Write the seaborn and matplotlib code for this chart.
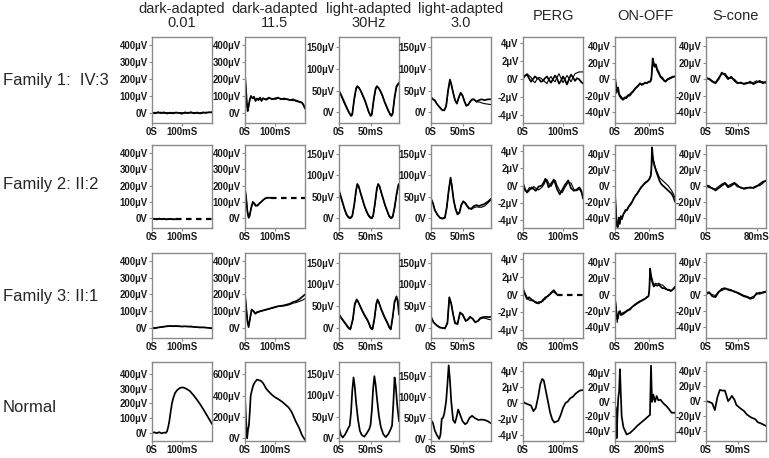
"""
ERG panel grid: 3 patients (two recordings overlaid) plus a normal control,
seven ISCEV-style protocols per row.
"""

import matplotlib
matplotlib.use("Agg")
import matplotlib.pyplot as plt
import seaborn as sns

sns.set_theme(style="white")
plt.rcParams["font.family"] = ["Liberation Sans", "DejaVu Sans"]

# ---------------------------------------------------------------- labels
col_titles = ["dark-adapted\n0.01", "dark-adapted\n11.5", "light-adapted\n30Hz",
              "light-adapted\n3.0", "PERG", "ON-OFF", "S-cone"]
row_labels = ["Family 1:  IV:3", "Family 2: II:2", "Family 3: II:1", "Normal"]

# ---------------------------------------------------------------- Family 1: IV:3
f1_da001_t = [0, 10, 20, 30, 40, 50, 60, 70, 80, 90, 100, 110, 120, 130, 140, 150, 160, 170, 180, 190, 200]
f1_da001_a = [2, -3, 4, -2, 3, -4, 1, -3, 2, -1, -5, 3, -2, 4, -3, 2, -4, 3, -1, 4, 2]
f1_da001_b = [0, 3, -2, 4, -3, 2, -4, 3, -1, 2, 1, -3, 3, -1, 2, -3, 1, -2, 4, 1, 5]

f1_da115_t = [0, 3, 6, 9, 12, 16, 20, 25, 30, 35, 40, 45, 50, 55, 60, 70, 80, 90, 100, 110,
              120, 130, 140, 150, 160, 170, 180, 190, 195, 200]
f1_da115_a = [220, 150, 60, 10, 40, 80, 100, 85, 95, 70, 85, 75, 90, 70, 85, 80, 90, 80, 85, 90,
              80, 85, 80, 75, 80, 70, 65, 60, 45, 25]
f1_da115_b = [215, 140, 55, 15, 35, 75, 95, 90, 85, 80, 78, 85, 80, 78, 88, 75, 85, 85, 80, 85,
              85, 78, 82, 78, 72, 75, 68, 62, 50, 30]

f1_la30_t = [0, 4, 8, 12, 16, 19, 21, 24, 27, 29, 32, 35, 38, 41, 44, 47, 50, 52, 55, 58, 60, 63,
             66, 69, 72, 75, 78, 81, 83, 85, 88, 91, 93, 95]
f1_la30_a = [50, 38, 25, 12, 0, -8, -5, 30, 55, 60, 55, 48, 38, 28, 15, 2, -8, -5, 30, 55, 60, 55,
             48, 38, 25, 15, 5, -5, -8, -3, 35, 60, 64, 68]
f1_la30_b = [48, 36, 22, 10, -2, -6, -2, 28, 52, 58, 57, 46, 36, 26, 14, 0, -6, -2, 28, 52, 58, 56,
             46, 36, 24, 13, 3, -3, -6, 0, 32, 57, 62, 65]

f1_la3_t = [0, 3, 6, 9, 12, 15, 18, 21, 24, 27, 30, 32, 35, 38, 41, 44, 47, 50, 53, 56, 59, 62,
            65, 68, 72, 76, 80, 85, 90, 95]
f1_la3_a = [35, 30, 28, 20, 15, 10, 5, 5, 15, 50, 75, 65, 45, 28, 20, 35, 45, 38, 25, 15, 18, 25,
            30, 30, 25, 28, 30, 28, 30, 30]
f1_la3_b = [35, 31, 26, 21, 14, 9, 6, 4, 14, 48, 73, 66, 46, 29, 21, 33, 44, 39, 26, 16, 17, 24,
            29, 29, 24, 24, 22, 20, 19, 18]

f1_perg_t = [0, 5, 10, 15, 20, 25, 30, 35, 40, 45, 50, 55, 60, 65, 70, 75, 80, 85, 90, 95, 100,
             105, 110, 115, 120, 125, 130, 135, 140, 145, 150]
f1_perg_a = [0.2, 0.4, 0.5, 0.1, -0.3, 0.0, 0.3, 0.1, 0.0, -0.3, -0.2, 0.1, 0.3, -0.1, -0.4, 0.0,
             0.4, 0.1, -0.5, -0.2, 0.3, -0.1, -0.6, 0.0, 0.5, 0.2, -0.2, 0.1, 0.0, -0.3, -0.5]
f1_perg_b = [0.0, 0.3, 0.6, 0.4, 0.2, -0.2, -0.4, 0.0, 0.2, 0.1, -0.1, -0.3, -0.5, 0.0, 0.3, -0.1,
             -0.3, 0.2, 0.6, 0.1, -0.4, 0.0, 0.4, 0.1, -0.3, 0.2, 0.6, 0.7, 0.8, 0.8, 0.8]

f1_onoff_t = [0, 5, 10, 18, 24, 30, 38, 46, 56, 66, 76, 86, 96, 106, 116, 126, 136, 146, 156, 166,
              176, 186, 196, 206, 212, 220, 225, 230, 238, 246, 256, 266, 276, 286, 296, 306, 316,
              326, 336, 350]
f1_onoff_a = [2, -5, -15, -10, -18, -20, -22, -25, -22, -23, -20, -20, -17, -15, -12, -10, -8, -5,
              -7, -6, -4, -5, -3, -3, 0, 25, 18, 15, 18, 12, 8, 3, 2, -2, -3, 0, 1, 2, 3, 3]
f1_onoff_b = [0, -8, -17, -12, -20, -22, -24, -23, -24, -21, -19, -18, -16, -14, -11, -9, -7, -6,
              -6, -5, -5, -4, -4, -2, 2, 20, 22, 17, 15, 10, 6, 2, 0, -1, -2, -1, 0, 1, 2, 4]

f1_scone_t = [0, 5, 10, 15, 20, 25, 30, 35, 40, 45, 50, 55, 60, 65, 70, 75, 80, 85, 90, 95]
f1_scone_a = [2, 0, -3, -5, 0, 8, 5, 0, 3, -2, -5, -4, -6, -5, -3, -6, -4, -2, -5, -3]
f1_scone_b = [0, 1, -2, -4, 2, 6, 7, 2, 1, 0, -4, -5, -5, -4, -5, -4, -2, -4, -3, -5]

# ---------------------------------------------------------------- Family 2: II:2
f2_da001_t = [0, 8, 16, 24, 32, 40, 48, 56, 64, 72, 80]
f2_da001_a = [-5, -3, -8, -2, -6, -3, -8, -4, -6, -7, -6]
f2_da001_b = [-4, -6, -2, -7, -3, -7, -4, -8, -3, -6, -6]
f2_da001_gap_t = [80, 200]
f2_da001_gap = [-6, -6]

f2_da115_t = [0, 4, 8, 12, 15, 20, 26, 30, 36, 42, 48, 54, 60, 66, 72, 78, 85]
f2_da115_a = [180, 120, 40, 5, 10, 60, 100, 90, 75, 80, 90, 100, 110, 120, 125, 125, 125]
f2_da115_b = [185, 125, 45, 0, 15, 55, 95, 95, 80, 75, 92, 98, 112, 118, 122, 126, 125]
f2_da115_gap_t = [85, 200]
f2_da115_gap = [125, 125]

f2_la30_t = [0, 3, 6, 9, 12, 15, 18, 21, 24, 27, 29, 31, 34, 37, 40, 43, 46, 49, 52, 54, 57, 60,
             62, 64, 67, 70, 73, 76, 79, 82, 85, 88, 91, 94, 95]
f2_la30_a = [65, 50, 35, 20, 8, 2, 0, 5, 30, 65, 80, 75, 60, 45, 30, 18, 8, 2, 0, 5, 35, 70, 80,
             75, 60, 45, 30, 18, 6, 0, 3, 25, 55, 78, 80]
f2_la30_b = [63, 48, 33, 18, 6, 0, -2, 3, 28, 62, 78, 76, 58, 43, 28, 16, 6, 0, -2, 3, 32, 68, 78,
             76, 58, 43, 28, 16, 4, -2, 1, 22, 52, 75, 78]

f2_la3_t = [0, 3, 6, 10, 14, 18, 22, 25, 28, 31, 33, 36, 39, 42, 45, 48, 51, 54, 57, 60, 64, 68,
            72, 76, 80, 85, 90, 95]
f2_la3_a = [45, 35, 18, 8, 0, -2, 0, 25, 65, 95, 75, 40, 20, 8, 12, 30, 38, 35, 28, 22, 22, 28,
            30, 28, 30, 33, 38, 45]
f2_la3_b = [46, 36, 19, 7, 1, -1, 1, 24, 63, 92, 77, 42, 22, 10, 14, 32, 40, 36, 30, 24, 20, 24,
            26, 25, 25, 28, 35, 42]

f2_perg_t = [0, 5, 10, 16, 22, 27, 32, 39, 47, 52, 56, 60, 64, 70, 77, 81, 85, 92, 98, 105, 113,
             120, 127, 133, 141, 146, 150]
f2_perg_a = [0.3, -0.4, -0.8, -0.5, -0.2, -0.4, -0.6, -0.1, 0.0, 0.4, 0.8, 0.4, -0.2, 0.2, 0.7,
             0.2, -0.4, -1.0, -0.5, 0.1, 0.6, -0.3, -0.6, -0.5, -0.2, -0.6, -1.5]
f2_perg_b = [0.1, -0.6, -0.7, -0.2, -0.4, -0.1, -0.3, -0.5, -0.2, 0.1, 0.5, 0.7, 0.3, -0.1, 0.5,
             0.6, 0.0, -0.6, -0.8, -0.2, 0.4, 0.3, -0.4, -0.6, -0.4, -0.8, -1.2]

f2_onoff_t = [0, 5, 10, 16, 22, 28, 34, 40, 50, 60, 70, 80, 90, 100, 110, 120, 130, 140, 150, 160,
              170, 180, 190, 200, 208, 212, 216, 222, 230, 240, 250, 260, 270, 280, 290, 300, 310,
              320, 330, 340, 350]
f2_onoff_a = [-10, -30, -50, -52, -40, -48, -38, -42, -35, -32, -30, -26, -24, -20, -16, -12, -10,
              -6, -3, 0, 2, 4, 6, 8, 12, 20, 48, 32, 25, 18, 12, 6, 2, 0, -2, -4, -6, -8, -10, -14, -20]
f2_onoff_b = [-8, -28, -48, -50, -42, -45, -40, -40, -36, -30, -31, -27, -22, -21, -15, -13, -9,
              -7, -2, -1, 3, 5, 5, 9, 13, 18, 42, 35, 27, 20, 15, 10, 8, 6, 4, 2, 0, -3, -6, -10, -15]

f2_scone_t = [0, 5, 10, 15, 20, 25, 30, 35, 40, 45, 50, 55, 60, 65, 70, 75, 80, 85, 90, 95]
f2_scone_a = [0, -2, -3, -6, -3, 0, 3, -2, 0, 3, -1, -2, -4, -3, -2, -3, -1, 2, 5, 6]
f2_scone_b = [1, 0, -4, -4, -1, 2, 4, 0, 2, 4, 1, -3, -3, -2, -3, -2, 0, 0, 3, 7]

# ---------------------------------------------------------------- Family 3: II:1
f3_da001_t = [0, 10, 20, 30, 40, 50, 60, 70, 80, 90, 100, 110, 120, 130, 140, 150, 160, 170, 180, 190, 200]
f3_da001_a = [0, -2, 3, 5, 8, 10, 12, 10, 12, 10, 9, 10, 8, 9, 6, 5, 3, 4, 2, 0, -2]
f3_da001_b = [-1, 1, 2, 6, 7, 11, 10, 12, 10, 11, 8, 9, 9, 7, 7, 4, 4, 2, 3, 1, -1]

f3_da115_t = [0, 4, 8, 12, 16, 22, 28, 34, 40, 50, 60, 70, 80, 90, 100, 110, 120, 130, 140, 150,
              160, 170, 180, 190, 200]
f3_da115_a = [200, 120, 40, 5, 50, 110, 100, 85, 95, 100, 105, 110, 115, 120, 125, 130, 132, 135,
              140, 145, 155, 160, 170, 185, 200]
f3_da115_b = [205, 125, 45, 10, 45, 105, 105, 90, 90, 98, 103, 108, 112, 118, 122, 128, 130, 132,
              135, 140, 148, 152, 158, 165, 175]

f3_la30_t = [0, 5, 10, 15, 18, 22, 25, 28, 30, 35, 40, 45, 48, 50, 53, 56, 59, 61, 63, 67, 72, 77,
             80, 82, 85, 88, 91, 93, 95]
f3_la30_a = [30, 20, 10, 0, -3, 20, 55, 65, 60, 45, 30, 18, 8, 0, -3, 20, 55, 65, 58, 42, 25, 10,
             0, -3, 25, 60, 72, 60, 30]
f3_la30_b = [28, 18, 8, -2, -5, 18, 52, 62, 62, 43, 28, 16, 6, -2, -5, 18, 52, 62, 60, 40, 23, 8,
             -2, -5, 22, 58, 68, 65, 35]

f3_la3_t = [0, 4, 9, 14, 18, 22, 26, 29, 32, 35, 38, 42, 46, 50, 55, 58, 62, 66, 70, 74, 78, 82,
            87, 91, 95]
f3_la3_a = [25, 12, 5, 0, -1, -2, 10, 70, 55, 30, 10, 8, 35, 30, 15, 18, 25, 20, 12, 15, 22, 24,
            25, 24, 25]
f3_la3_b = [24, 13, 6, 1, 0, -1, 12, 68, 57, 32, 12, 9, 33, 31, 17, 17, 23, 21, 14, 14, 20, 22,
            21, 19, 18]

f3_perg_t = [0, 5, 10, 15, 20, 25, 30, 35, 39, 45, 50, 56, 62, 68, 72, 77, 82, 85]
f3_perg_a = [0.5, 0.0, -0.5, -0.3, -0.5, -0.7, -0.8, -0.9, -1.0, -0.8, -0.7, -0.3, -0.2, 0.1, 0.3,
             0.5, 0.2, 0.0]
f3_perg_b = [0.8, 0.2, -0.3, -0.6, -0.7, -0.6, -0.9, -1.0, -0.8, -0.9, -0.5, -0.5, -0.1, 0.0, 0.2,
             0.3, 0.1, 0.0]
f3_perg_gap_t = [85, 150]
f3_perg_gap = [0, 0]

f3_onoff_t = [0, 5, 13, 18, 23, 29, 35, 45, 58, 70, 88, 100, 117, 130, 146, 160, 175, 185, 195,
              200, 205, 210, 218, 226, 236, 246, 256, 266, 276, 286, 296, 306, 316, 326, 336, 350]
f3_onoff_a = [-5, -15, -30, -28, -21, -20, -25, -24, -22, -20, -18, -15, -12, -10, -8, -7, -5, -3,
              -2, 5, 32, 22, 15, 10, 12, 11, 12, 10, 8, 8, 7, 6, 6, 5, 6, 10]
f3_onoff_b = [-3, -12, -34, -26, -23, -22, -24, -22, -21, -19, -17, -15, -13, -11, -9, -6, -5, -4,
              -2, 4, 28, 25, 18, 12, 14, 13, 14, 12, 12, 10, 8, 6, 5, 4, 6, 8]

f3_scone_t = [0, 5, 10, 15, 20, 25, 30, 35, 40, 45, 50, 55, 60, 65, 70, 75, 80, 85, 90, 95]
f3_scone_a = [2, 3, -2, -3, 3, 7, 8, 6, 5, 4, 2, 0, -2, -3, -5, -4, 2, 1, 3, 4]
f3_scone_b = [0, 2, 0, -1, 4, 5, 7, 7, 6, 3, 3, 1, -1, -2, -4, -2, 0, 3, 2, 3]

# ---------------------------------------------------------------- Normal control
n_da001_t = [0, 8, 16, 24, 32, 40, 46, 50, 54, 58, 62, 66, 70, 77, 85, 93, 100, 106, 115, 127,
             138, 149, 160, 171, 185, 200]
n_da001 = [0, 4, -2, 5, -3, 2, 0, 10, 40, 82, 140, 193, 230, 271, 292, 304, 308, 306, 298, 282,
           256, 227, 195, 160, 112, 60]

n_da115_t = [0, 3, 7, 10, 13, 16, 19, 23, 28, 34, 40, 46, 52, 58, 64, 69, 75, 82, 90, 100, 112,
             125, 135, 145, 155, 169, 180, 190, 200]
n_da115 = [380, 200, 0, 80, 120, 250, 400, 450, 500, 530, 550, 545, 540, 525, 500, 472, 450, 430,
           407, 385, 365, 340, 315, 290, 250, 160, 100, 30, -15]

n_la30_t = [0, 3, 6, 10, 14, 17, 19, 21, 23, 25, 27, 30, 33, 36, 40, 44, 48, 50, 52, 54, 56, 58,
            60, 63, 66, 70, 74, 78, 82, 84, 86, 88, 90, 92, 95]
n_la30 = [25, 8, 2, 10, 22, 30, 60, 110, 142, 120, 85, 45, 18, 8, 4, 12, 22, 32, 65, 115, 145, 125,
          95, 55, 28, 10, 3, 10, 22, 30, 80, 142, 120, 80, 40]

n_la3_t = [0, 3, 6, 9, 13, 15, 17, 19, 21, 24, 26, 28, 30, 32, 35, 38, 41, 43, 46, 50, 54, 57,
           61, 65, 69, 75, 80, 85, 90, 95]
n_la3 = [45, 38, 20, 10, 0, 10, 48, 50, 60, 90, 130, 175, 140, 90, 45, 38, 55, 70, 58, 42, 35, 38,
         50, 55, 50, 45, 46, 45, 42, 37]

n_perg_t = [0, 5, 10, 15, 20, 26, 32, 38, 43, 48, 52, 56, 62, 68, 73, 78, 83, 88, 94, 100, 106,
            112, 118, 125, 132, 140, 145, 150]
n_perg = [0.2, 0.0, -0.1, -0.2, -0.3, -1.0, -0.6, 0.8, 2.3, 3.0, 2.8, 1.8, 0.3, -1.2, -2.0, -2.4,
          -2.3, -2.2, -1.5, -0.6, 0.0, 0.2, 0.6, 0.8, 1.2, 1.5, 1.6, 1.6]

n_onoff_t = [0, 5, 10, 14, 19, 24, 29, 34, 39, 49, 68, 87, 110, 130, 150, 170, 194, 204, 210, 216,
             224, 233, 243, 253, 265, 282, 301, 315, 330, 350]
n_onoff = [-5, -8, -50, -20, 5, 15, 45, 10, -20, -35, -45, -43, -38, -33, -29, -25, -20, -18, 50,
           0, 10, 0, 8, 2, 3, -2, -6, -10, -15, -15]

n_scone_t = [0, 5, 10, 14, 18, 22, 26, 30, 35, 38, 41, 45, 48, 55, 60, 65, 72, 78, 82, 88, 95]
n_scone = [0, -1, -3, -12, 5, 15, 14, 14, 0, 3, 7, 2, -5, -10, -13, -18, -22, -24, -28, -30, -33]

# ---------------------------------------------------------------- axis scales per column
uv_400 = ([0, 100, 200, 300, 400], ["0V", "100µV", "200µV", "300µV", "400µV"])
uv_600 = ([0, 200, 400, 600], ["0V", "200µV", "400µV", "600µV"])
uv_150 = ([0, 50, 100, 150], ["0V", "50µV", "100µV", "150µV"])
uv_4 = ([-4, -2, 0, 2, 4], ["-4µV", "-2µV", "0V", "2µV", "4µV"])
uv_40 = ([-40, -20, 0, 20, 40], ["-40µV", "-20µV", "0V", "20µV", "40µV"])

col_xlim = [200, 200, 95, 95, 150, 350, 95]
col_xtick = [100, 100, 50, 50, 100, 200, 50]

# table of panels: each entry is (time, [traces], (dash_t, dash_v) or None)
panels = [
    [(f1_da001_t, [f1_da001_a, f1_da001_b], None),
     (f1_da115_t, [f1_da115_a, f1_da115_b], None),
     (f1_la30_t, [f1_la30_a, f1_la30_b], None),
     (f1_la3_t, [f1_la3_a, f1_la3_b], None),
     (f1_perg_t, [f1_perg_a, f1_perg_b], None),
     (f1_onoff_t, [f1_onoff_a, f1_onoff_b], None),
     (f1_scone_t, [f1_scone_a, f1_scone_b], None)],
    [(f2_da001_t, [f2_da001_a, f2_da001_b], (f2_da001_gap_t, f2_da001_gap)),
     (f2_da115_t, [f2_da115_a, f2_da115_b], (f2_da115_gap_t, f2_da115_gap)),
     (f2_la30_t, [f2_la30_a, f2_la30_b], None),
     (f2_la3_t, [f2_la3_a, f2_la3_b], None),
     (f2_perg_t, [f2_perg_a, f2_perg_b], None),
     (f2_onoff_t, [f2_onoff_a, f2_onoff_b], None),
     (f2_scone_t, [f2_scone_a, f2_scone_b], None)],
    [(f3_da001_t, [f3_da001_a, f3_da001_b], None),
     (f3_da115_t, [f3_da115_a, f3_da115_b], None),
     (f3_la30_t, [f3_la30_a, f3_la30_b], None),
     (f3_la3_t, [f3_la3_a, f3_la3_b], None),
     (f3_perg_t, [f3_perg_a, f3_perg_b], (f3_perg_gap_t, f3_perg_gap)),
     (f3_onoff_t, [f3_onoff_a, f3_onoff_b], None),
     (f3_scone_t, [f3_scone_a, f3_scone_b], None)],
    [(n_da001_t, [n_da001], None),
     (n_da115_t, [n_da115], None),
     (n_la30_t, [n_la30], None),
     (n_la3_t, [n_la3], None),
     (n_perg_t, [n_perg], None),
     (n_onoff_t, [n_onoff], None),
     (n_scone_t, [n_scone], None)],
]

# (ylim, ticks) per row/column
patient_scales = [((-60, 448), uv_400), ((-60, 448), uv_400), ((-24, 172), uv_150),
                  ((-24, 172), uv_150), ((-4.9, 4.7), uv_4), ((-53, 51), uv_40), ((-53, 51), uv_40)]
normal_scales = [((-55, 480), uv_400), ((-25, 715), uv_600), ((-6, 178), uv_150),
                 ((-5, 183), uv_150), ((-4.7, 5.1), uv_4), ((-54, 55), uv_40), ((-53, 52), uv_40)]

# pixel layout of the original figure
W, H = 769, 458
col_left = [152, 245, 339, 431, 523, 615, 706]
row_top = [37, 145, 253, 362]
row_h = [86, 83, 85, 79]
pw = 60
frame = "#8a8a8a"

fig = plt.figure(figsize=(W / 100, H / 100), dpi=100)

for r, row in enumerate(panels):
    scales = normal_scales if r == 3 else patient_scales
    ph = row_h[r]
    for c, (t, traces, gap) in enumerate(row):
        ax = fig.add_axes([col_left[c] / W, 1 - (row_top[r] + ph) / H, pw / W, ph / H])
        for k, v in enumerate(traces):
            lw = 1.25 if k == 0 else 0.8
            sns.lineplot(x=t, y=v, ax=ax, color="black", linewidth=lw,
                         estimator=None, sort=False)
        if gap is not None:
            sns.lineplot(x=gap[0], y=gap[1], ax=ax, color="black", linewidth=1.6,
                         linestyle=(0, (2.5, 2)), estimator=None, sort=False)

        ylim, (yt, ytl) = scales[c]
        ax.set_ylim(*ylim)
        ax.set_xlim(0, col_xlim[c])
        ax.set_yticks(yt)
        ax.set_yticklabels(ytl)
        xt = 80 if (r == 1 and c == 6) else col_xtick[c]
        ax.set_xticks([0, xt])
        ax.set_xticklabels(["0S", f"{xt}mS"])
        ax.set_xlabel("")
        ax.set_ylabel("")
        for s in ax.spines.values():
            s.set_color(frame)
            s.set_linewidth(1.0)
        ax.tick_params(axis="both", which="major", length=2.2, width=0.8, color=frame,
                       pad=1.0, labelsize=6.9, labelcolor="#1a1a1a", left=True, bottom=True)
        for lab in ax.get_xticklabels() + ax.get_yticklabels():
            lab.set_fontweight("bold")

for c, title in enumerate(col_titles):
    fig.text((col_left[c] + pw / 2) / W, 1 - 16 / H, title, ha="center", va="center",
             fontsize=10.5, linespacing=1.05)

row_centers = [80, 185, 297, 407]
for r, label in enumerate(row_labels):
    fig.text(3 / W, 1 - row_centers[r] / H, label, ha="left", va="center", fontsize=12)

fig.savefig("out.png", dpi=100)
